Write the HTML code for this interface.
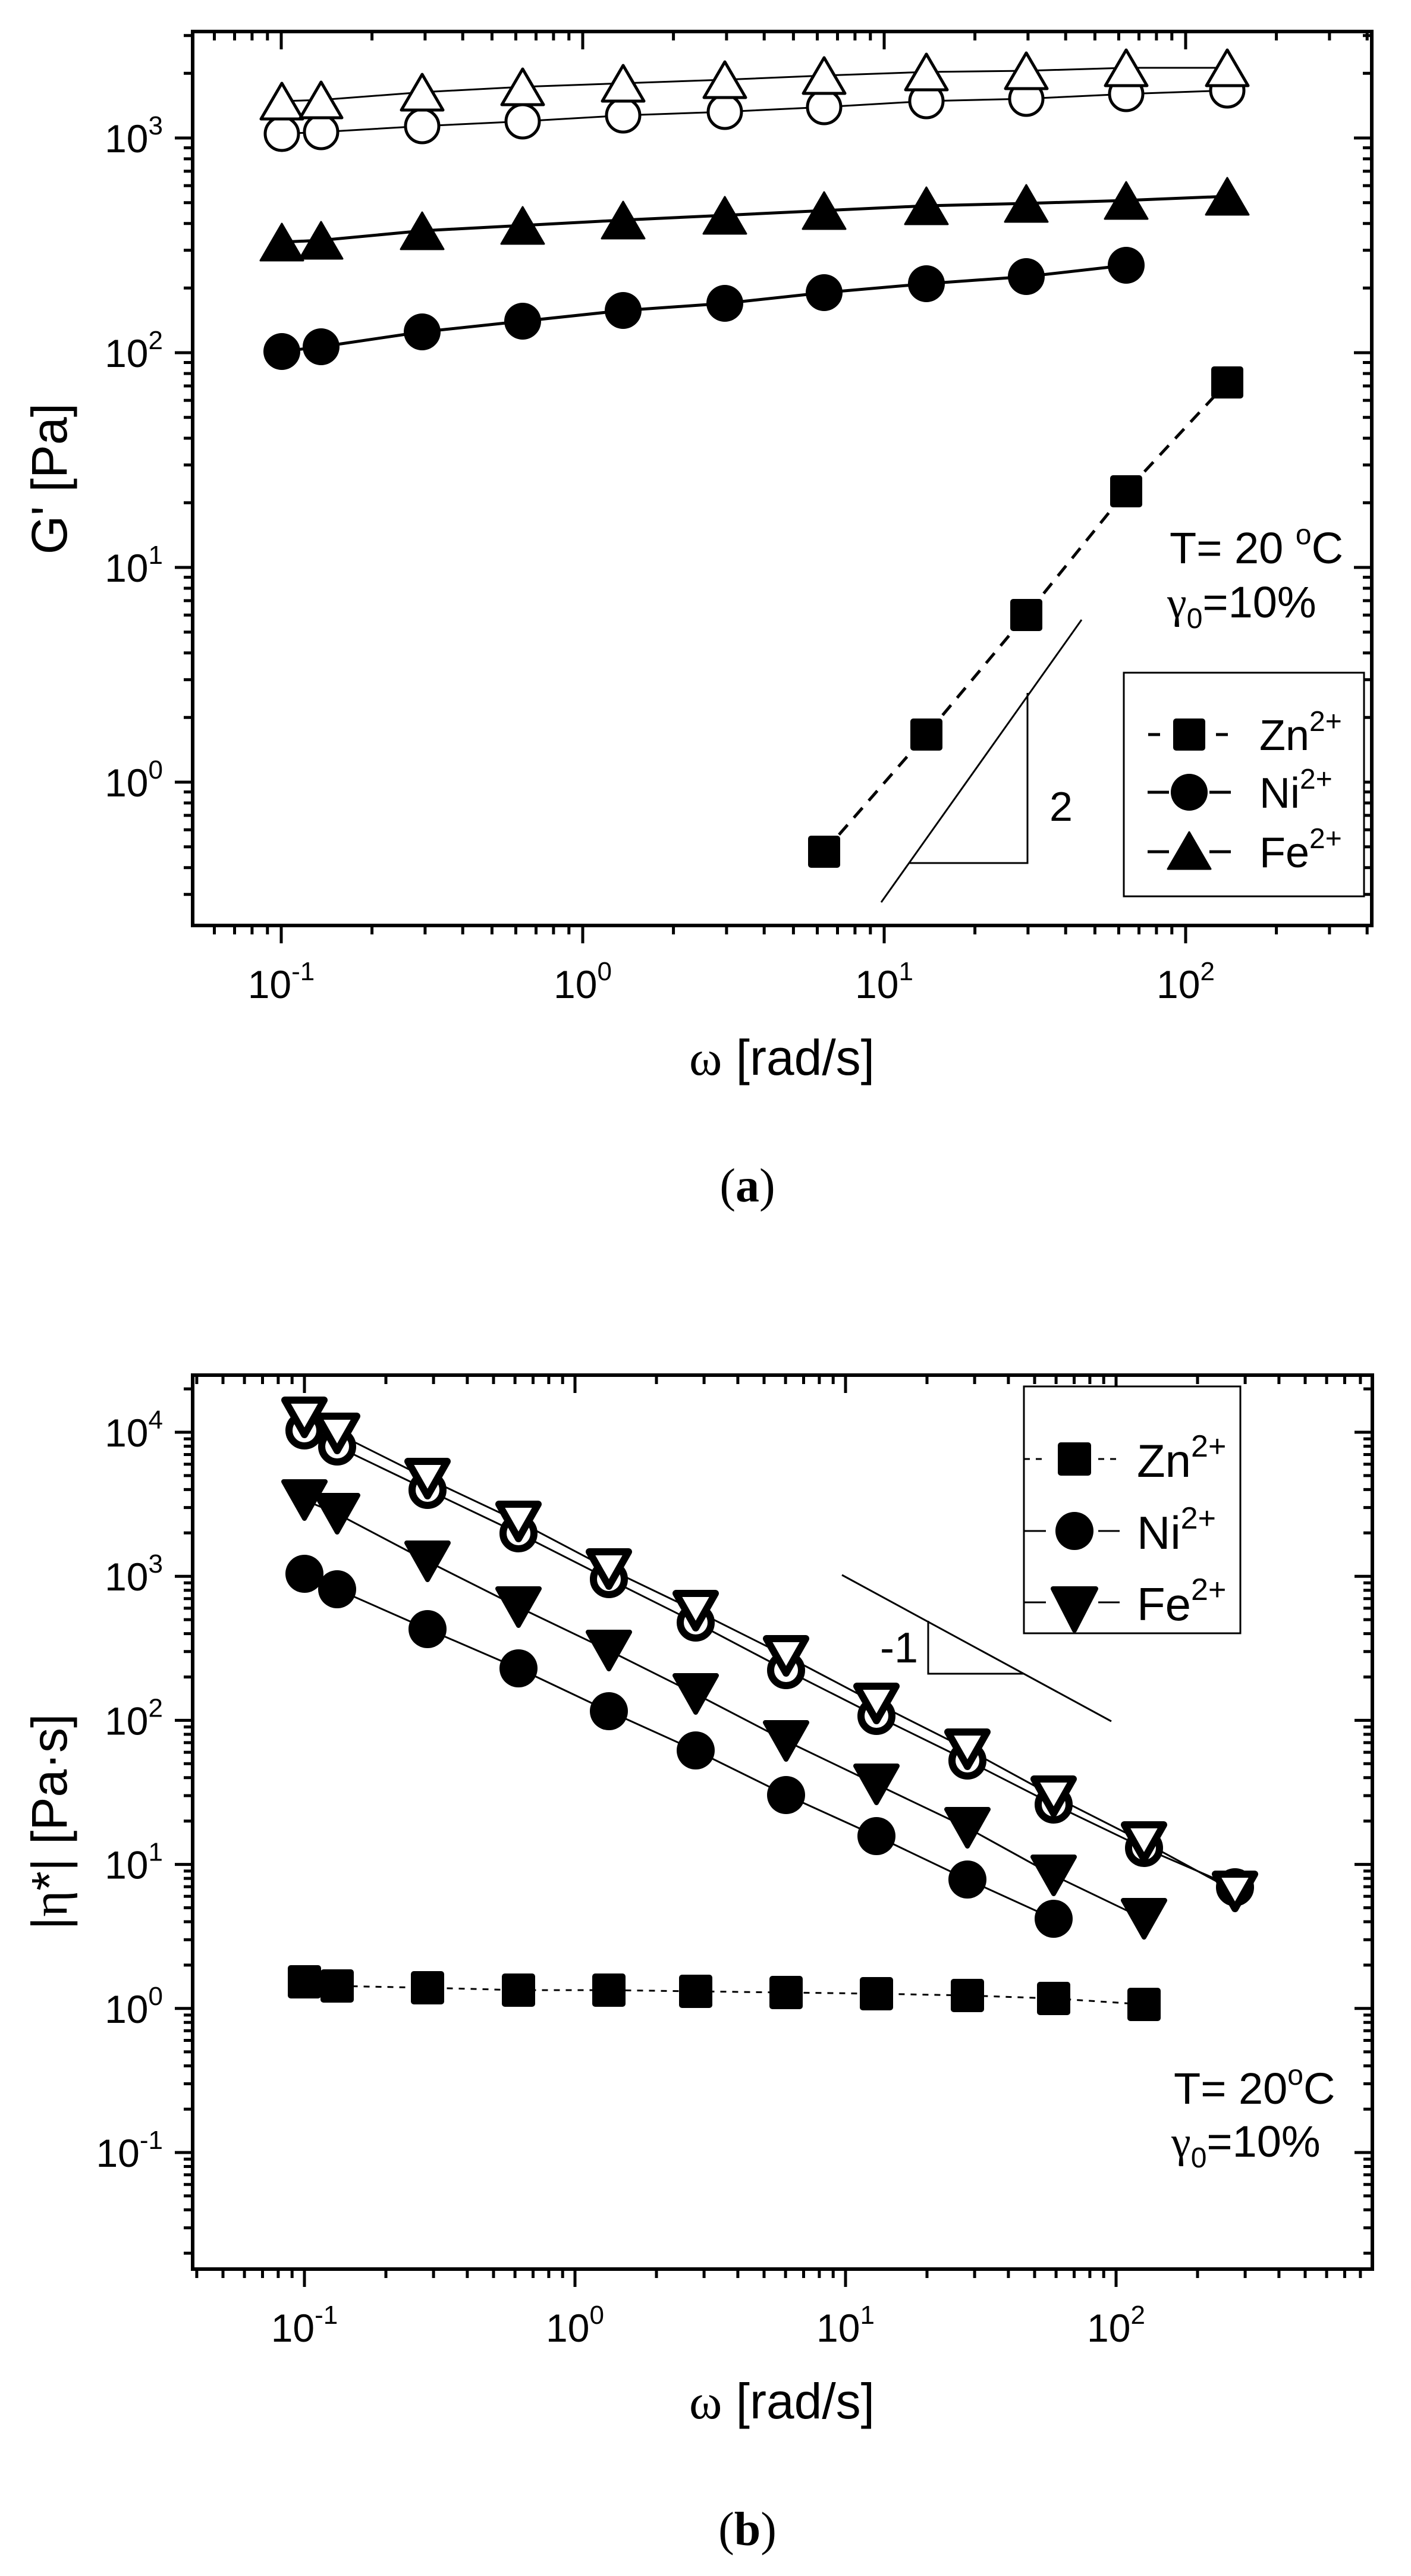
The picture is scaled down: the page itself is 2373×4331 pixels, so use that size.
<!DOCTYPE html>
<html><head><meta charset="utf-8"><style>
html,body{margin:0;padding:0;background:#fff;}
svg{display:block;}
text{font-family:"Liberation Sans",Arial,sans-serif;fill:#000;}
</style></head><body>
<svg id="s" xmlns="http://www.w3.org/2000/svg" width="2373" height="4331" viewBox="0 0 2373 4331"></svg>
<script>
var S=document.getElementById('s'),out=[];
function add(t){out.push(t);}
function axes(c){
  var X=c.X,Y=c.Y,l=c.l,r=c.r,t=c.t,b=c.b;
  add('<rect x="'+l+'" y="'+t+'" width="'+(r-l)+'" height="'+(b-t)+'" fill="none" stroke="#000" stroke-width="6"/>');
  var d='';
  for(var k=-3;k<=5;k++){for(var m=1;m<=9;m++){
    var lv=k+Math.log10(m),x=X(lv);
    if(x>l+3&&x<r-3){var L=m==1?30:15;
      d+='M'+x.toFixed(1)+' '+b+'v'+L+'M'+x.toFixed(1)+' '+t+'v'+L;}
    var y=Y(lv);
    if(y>t+3&&y<b-3){var L2=m==1?30:15;
      d+='M'+l+' '+y.toFixed(1)+'h'+(-L2)+'M'+r+' '+y.toFixed(1)+'h'+(-L2);}
  }}
  add('<path d="'+d+'" stroke="#000" stroke-width="5" fill="none"/>');
  c.xl.forEach(function(k){add('<text x="'+X(k)+'" y="'+(b+122)+'" font-size="66" text-anchor="middle">10<tspan font-size="44" dy="-30">'+k+'</tspan></text>');});
  c.yl.forEach(function(k){add('<text x="274" y="'+(Y(k)+24)+'" font-size="66" text-anchor="end">10<tspan font-size="44" dy="-30">'+k+'</tspan></text>');});
}
function circ(x,y,r,fill,sw){add('<circle cx="'+x+'" cy="'+y+'" r="'+r+'" fill="'+fill+'" stroke="#000" stroke-width="'+sw+'"/>');}
function tri(x,y,w,h,up,fill,sw){var p=up?[x,y-h/2,x+w/2,y+h/2,x-w/2,y+h/2]:[x,y+h/2,x+w/2,y-h/2,x-w/2,y-h/2];
  add('<polygon points="'+p.join(' ')+'" fill="'+fill+'" stroke="#000" stroke-width="'+sw+'" stroke-linejoin="round"/>');}
function sq(x,y,s){add('<rect x="'+(x-s/2)+'" y="'+(y-s/2)+'" width="'+s+'" height="'+s+'" rx="5" fill="#000"/>');}
function line(xs,ys,sw,dash){var p=[];for(var i=0;i<ys.length;i++)p.push(xs[i]+','+ys[i]);
  add('<polyline points="'+p.join(' ')+'" fill="none" stroke="#000" stroke-width="'+sw+'"'+(dash?' stroke-dasharray="'+dash+'"':'')+'/>');}

/* ---------- panel a ---------- */
var A={l:324,r:2307,t:53,b:1556,X:function(v){return 473+(v+1)*507;},Y:function(v){return 232+(3-v)*361;},xl:[-1,0,1,2],yl:[0,1,2,3]};
axes(A);
var xa=[474,540,710,879,1048,1219,1386,1558,1726,1894,2064];
var oT=[170,168,155,146,140,134,127,121,119,114,114];
var oC=[225,222,212,204,194,188,180,170,166,158,152];
var fT=[407,404,388,379,370,362,354,346,342,337,330];
var fC=[591,583,558,540,522,510,492,477,465,446];
var zS=[1432,1235,1034,826,643];
line(xa,oT,3);line(xa,oC,3);line(xa,fT,5);line(xa,fC,5);
line(xa.slice(6),zS,5,'22 16');
for(var i=0;i<11;i++){circ(xa[i],oC[i],28,'#fff',5);}
for(var i=0;i<11;i++){tri(xa[i],oT[i],70,60,true,'#fff',5);}
for(var i=0;i<11;i++){tri(xa[i],fT[i],72,62,true,'#000',3);}
for(var i=0;i<10;i++){circ(xa[i],fC[i],31,'#000',0);}
for(var i=0;i<5;i++){sq(xa[6+i],zS[i],54);}
add('<path d="M1482 1517L1819 1042M1530 1451H1728V1165" stroke="#000" stroke-width="3" fill="none"/>');
add('<text x="1765" y="1380" font-size="70">2</text>');
add('<text x="1967" y="947" font-size="74">T= 20 <tspan font-size="48" dy="-32">o</tspan><tspan dy="32">C</tspan></text>');
add('<text x="1963" y="1038" font-size="74"><tspan font-family="Liberation Serif,serif">γ</tspan><tspan font-size="48" dy="18">0</tspan><tspan dy="-18">=10%</tspan></text>');
add('<rect x="1890" y="1131" width="404" height="376" fill="#fff" stroke="#000" stroke-width="3"/>');
add('<path d="M1931 1235h20M2045 1235h20" stroke="#000" stroke-width="5"/>');
add('<path d="M1930 1332h36M2034 1332h36M1930 1432h36M2034 1432h36" stroke="#000" stroke-width="5"/>');
sq(2000,1235,54);circ(2000,1332,31,'#000',0);tri(2000,1430,72,62,true,'#000',3);
[['Zn',1235],['Ni',1332],['Fe',1432]].forEach(function(e){add('<text x="2118" y="'+(e[1]+26)+'" font-size="72">'+e[0]+'<tspan font-size="48" dy="-32">2+</tspan></text>');});
add('<text transform="translate(112,805) rotate(-90)" font-size="84" text-anchor="middle">G\' [Pa]</text>');
add('<text x="1315" y="1807" font-size="84" text-anchor="middle"><tspan font-family="Liberation Serif,serif">ω</tspan> [rad/s]</text>');
add('<text x="1257" y="2020" font-size="80" text-anchor="middle" style="font-family:\'Liberation Serif\',serif">(<tspan font-weight="bold">a</tspan>)</text>');

/* ---------- panel b ---------- */
var B={l:324,r:2308,t:2312,b:3815,X:function(v){return 512+(v+1)*455;},Y:function(v){return 2408+(4-v)*242.2;},xl:[-1,0,1,2],yl:[-1,0,1,2,3,4]};
axes(B);
var xb=[512,567,719,872,1024,1170,1322,1474,1627,1772,1924,2077];
var boT=[2383,2410,2486,2558,2638,2708,2784,2864,2941,3020,3097,3180];
var boC=[2405,2432,2505,2578,2655,2728,2808,2885,2960,3034,3107,3173];
var bfT=[2522,2545,2625,2702,2775,2848,2927,3000,3073,3153,3226];
var bfC=[2646,2672,2739,2805,2877,2943,3018,3087,3160,3226];
var bzS=[3332,3339,3342,3346,3346,3348,3350,3352,3355,3360,3370];
line(xb,boT,3);line(xb,boC,3);line(xb,bfT,3);line(xb,bfC,3);line(xb,bzS,3,'10 10');
for(var i=0;i<12;i++){circ(xb[i],boC[i],26,'#fff',12);}
for(var i=0;i<12;i++){tri(xb[i],boT[i],66,58,false,'#fff',12);}
for(var i=0;i<11;i++){tri(xb[i],bfT[i],70,62,false,'#000',8);}
for(var i=0;i<10;i++){circ(xb[i],bfC[i],32,'#000',0);}
for(var i=0;i<11;i++){sq(xb[i],bzS[i],56);}
add('<path d="M1416 2648L1869 2894M1561 2725V2814H1721" stroke="#000" stroke-width="3" fill="none"/>');
add('<text x="1480" y="2795" font-size="72">-1</text>');
add('<text x="1974" y="3537" font-size="74">T= 20<tspan font-size="48" dy="-32">o</tspan><tspan dy="32">C</tspan></text>');
add('<text x="1970" y="3626" font-size="74"><tspan font-family="Liberation Serif,serif">γ</tspan><tspan font-size="48" dy="18">0</tspan><tspan dy="-18">=10%</tspan></text>');
add('<rect x="1722" y="2331" width="364" height="415" fill="#fff" stroke="#000" stroke-width="3"/>');
add('<path d="M1722 2453h37M1847 2453h36" stroke="#000" stroke-width="3" stroke-dasharray="10 10"/>');
add('<path d="M1722 2574h37M1847 2574h36M1722 2694h37M1847 2694h36" stroke="#000" stroke-width="3"/>');
sq(1807,2453,56);circ(1807,2574,32,'#000',0);tri(1807,2706,72,70,false,'#000',8);
[['Zn',2453],['Ni',2574],['Fe',2694]].forEach(function(e){add('<text x="1912" y="'+(e[1]+30)+'" font-size="78">'+e[0]+'<tspan font-size="52" dy="-34">2+</tspan></text>');});
add('<text transform="translate(112,3063) rotate(-90)" font-size="84" text-anchor="middle">|<tspan font-family="Liberation Serif,serif">η</tspan>*| [Pa·s]</text>');
add('<text x="1315" y="4066" font-size="84" text-anchor="middle"><tspan font-family="Liberation Serif,serif">ω</tspan> [rad/s]</text>');
add('<text x="1257" y="4279" font-size="80" text-anchor="middle" style="font-family:\'Liberation Serif\',serif">(<tspan font-weight="bold">b</tspan>)</text>');
S.innerHTML=out.join('');
</script>
</body></html>
